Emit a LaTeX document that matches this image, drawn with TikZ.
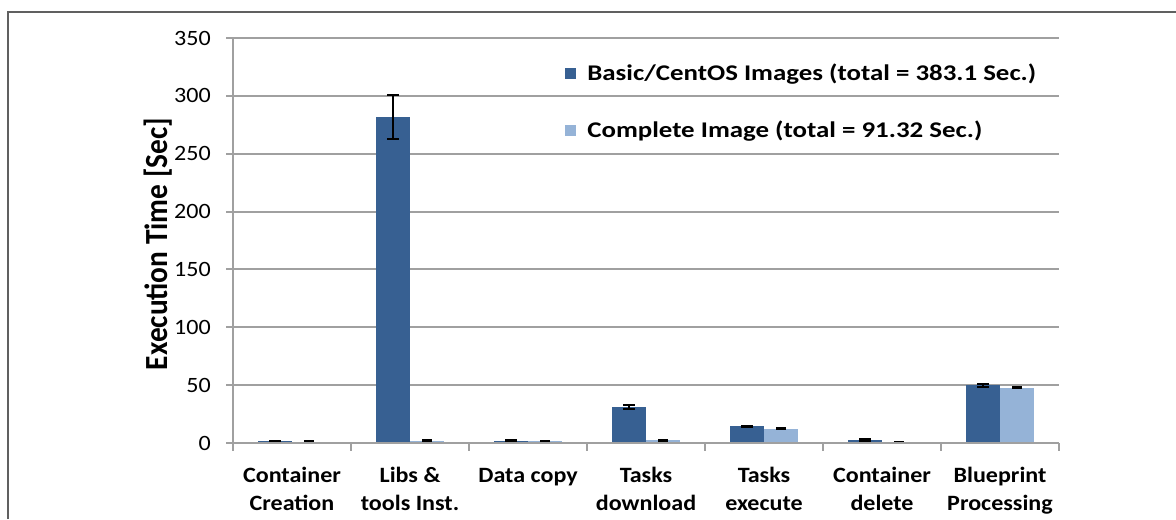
\documentclass[tikz,border=0pt]{standalone}
\usepackage{fontspec}
\setmainfont{Carlito}
\definecolor{basicblue}{HTML}{376092}
\definecolor{completeblue}{HTML}{95B3D7}
\definecolor{gridgray}{HTML}{A0A0A0}
\definecolor{framegray}{HTML}{606060}
% value (seconds) -> vertical pixel position
\newcommand{\vy}[1]{443-1.157143*(#1)}
\begin{document}
\begin{tikzpicture}[x=0.75pt,y=-0.75pt,
  gridline/.style={draw=gridgray,line width=1.5pt},
  barbasic/.style={fill=basicblue},
  barcomplete/.style={fill=completeblue},
  errbar/.style={draw=black,line width=1.6pt},
  ticklabel/.style={anchor=east,inner sep=0pt,xscale=1.1,font=\fontsize{16.4}{20}\selectfont},
  catlabel/.style={anchor=base,inner sep=0pt,xscale=1.1,font=\fontsize{16.4}{20}\selectfont\bfseries},
  legendtext/.style={anchor=base west,inner sep=0pt,xscale=1.2,font=\fontsize{16.8}{20}\selectfont\bfseries},
  axistitle/.style={anchor=base,inner sep=0pt,xscale=1.1,rotate=90,font=\fontsize{22}{26}\selectfont\bfseries}
]
\useasboundingbox (0,0) rectangle (1176,519);
\fill[white] (0,0) rectangle (1176,519);

% outer frame
\draw[framegray,line width=1.2pt] (8,519) -- (8,12) -- (1176,12);

% horizontal grid and value ticks
\foreach \v in {50,100,...,350}
  \draw[gridline] (233,{\vy{\v}}) -- (1059,{\vy{\v}});
\foreach \v in {0,50,...,350}
  \draw[gridline] (226,{\vy{\v}}) -- (233,{\vy{\v}});
\foreach \v in {0,50,...,350}
  \node[ticklabel] (tick\v) at (211,{\vy{\v}}) {\v};

% category ticks
\foreach \i in {0,...,7}
  \draw[gridline] ({233+118*\i},443) -- ({233+118*\i},451);

% bars with error bars: index / basic value / basic error / complete value / complete error
\foreach \i/\a/\ea/\b/\eb in {0/1.5/0.3/1.3/0.3, 1/282/19/2/0.4, 2/2/0.4/1.5/0.3,
    3/31/1.8/2.3/0.3, 4/14.5/0.5/12.5/0.5, 5/2.7/0.6/1/0.2, 6/49.8/1.3/47.8/0.5} {
  \fill[barbasic] ({233+118*\i+25},443) rectangle ({233+118*\i+59},{\vy{\a}});
  \fill[barcomplete] ({233+118*\i+59},443) rectangle ({233+118*\i+93},{\vy{\b}});
  \draw[errbar] ({233+118*\i+42},{\vy{\a-\ea}}) -- ({233+118*\i+42},{\vy{\a+\ea}})
    ({233+118*\i+36},{\vy{\a+\ea}}) -- ({233+118*\i+48},{\vy{\a+\ea}})
    ({233+118*\i+36},{\vy{\a-\ea}}) -- ({233+118*\i+48},{\vy{\a-\ea}});
  \draw[errbar] ({233+118*\i+76},{\vy{\b-\eb}}) -- ({233+118*\i+76},{\vy{\b+\eb}})
    ({233+118*\i+71},{\vy{\b+\eb}}) -- ({233+118*\i+81},{\vy{\b+\eb}})
    ({233+118*\i+71},{\vy{\b-\eb}}) -- ({233+118*\i+81},{\vy{\b-\eb}});
}

% axes
\draw[gridline] (233,38) -- (233,443);
\draw[gridline] (226,443) -- (1059,443);

% category labels
\foreach \i/\la/\lb in {0/Container/Creation, 1/Libs \&/tools Inst., 2/Data copy/,
    3/Tasks/download, 4/Tasks/execute, 5/Container/delete, 6/Blueprint/Processing} {
  \node[catlabel] (cata\i) at ({292+118*\i},482) {\la};
  \node[catlabel] (catb\i) at ({292+118*\i},510) {\lb};
}

% axis title
\node[axistitle] (ytitle) at (167,244) {Execution Time [Sec]};

% legend
\fill[basicblue] (565,68) rectangle (576,79);
\node[legendtext] (legbasic) at (587,80.5) {Basic/CentOS Images (total = 383.1 Sec.)};
\fill[completeblue] (565,125) rectangle (576,136);
\node[legendtext] (legcomplete) at (587,137.5) {Complete Image (total = 91.32 Sec.)};
\end{tikzpicture}
\end{document}
